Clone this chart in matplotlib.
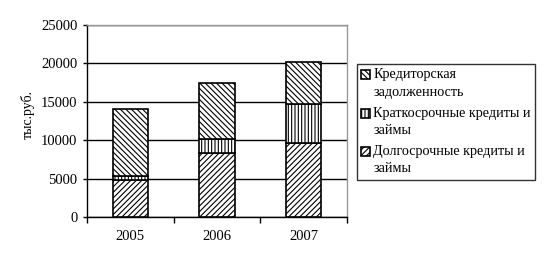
import matplotlib
matplotlib.use("Agg")
import matplotlib.pyplot as plt
import matplotlib.patches as mpatches
from matplotlib.legend_handler import HandlerPatch
import numpy as np

years = ["2005", "2006", "2007"]
long_term = [4800, 8300, 9600]
short_term = [500, 1800, 5100]
creditor = [8700, 7300, 5500]
series_labels = ["Кредиторская\nзадолженность",
                 "Краткосрочные кредиты и\nзаймы",
                 "Долгосрочные кредиты и\nзаймы"]
y_ticks = [0, 5000, 10000, 15000, 20000, 25000]

plt.rcParams['font.family'] = ['Liberation Serif', 'DejaVu Serif']
plt.rcParams['hatch.linewidth'] = 0.8

fig = plt.figure(figsize=(5.45, 2.65), dpi=100)
ax = fig.add_axes([87/545, 1-217/265, (347-87)/545, (217-25)/265])

x = np.arange(len(years))
w = 0.41
lt = np.array(long_term); st = np.array(short_term); cr = np.array(creditor)
b1 = ax.bar(x, lt, w, color='white', edgecolor='black', hatch='//////', linewidth=1.2, zorder=3)
b2 = ax.bar(x, st, w, bottom=lt, color='white', edgecolor='black', hatch='|||||', linewidth=1.2, zorder=3)
b3 = ax.bar(x, cr, w, bottom=lt+st, color='white', edgecolor='black', hatch='\\\\\\\\\\\\', linewidth=1.2, zorder=3)

ax.set_xlim(-0.5, 2.5)
ax.set_ylim(0, 25000)
ax.set_yticks(y_ticks)
ax.set_yticklabels([str(v) for v in y_ticks], fontsize=10.5)
ax.set_xticks([-0.5, 0.5, 1.5, 2.5], minor=False)
ax.set_xticklabels([])
ax.set_xticks(x, minor=True)
ax.set_xticklabels(years, minor=True, fontsize=10.5)
ax.tick_params(axis='x', which='major', direction='out', length=4, width=1)
ax.tick_params(axis='x', which='minor', length=0, pad=9)
ax.tick_params(axis='y', direction='out', length=3, width=1, pad=4)
ax.grid(axis='y', color='black', linewidth=1, zorder=1)
ax.set_axisbelow(True)
for s in ['top', 'right']:
    ax.spines[s].set_color('#999999')
    ax.spines[s].set_linewidth(1)
for s in ['left', 'bottom']:
    ax.spines[s].set_color('black')
    ax.spines[s].set_linewidth(1)
ax.set_ylabel("тыс.руб.", fontsize=10)
ax.yaxis.set_label_coords(-0.2, 0.536)


def top_patch(legend, orig_handle, xdescent, ydescent, width, height, fontsize):
    return mpatches.Rectangle((-xdescent, -ydescent + 0.62 * fontsize), width, height)


leg = fig.legend([b3[0], b2[0], b1[0]], series_labels, loc='upper left',
                 bbox_to_anchor=(357/545, 1-64/265), bbox_transform=fig.transFigure,
                 borderaxespad=0, fancybox=False, frameon=True, edgecolor='black',
                 fontsize=10.2, handlelength=0.6, handleheight=0.6, handletextpad=0.25,
                 labelspacing=0.55, borderpad=0.3,
                 handler_map={mpatches.Rectangle: HandlerPatch(patch_func=top_patch)})
for t in leg.get_texts():
    t.set_linespacing(1.45)
leg.get_frame().set_linewidth(1)

fig.savefig("out.png", dpi=100)
